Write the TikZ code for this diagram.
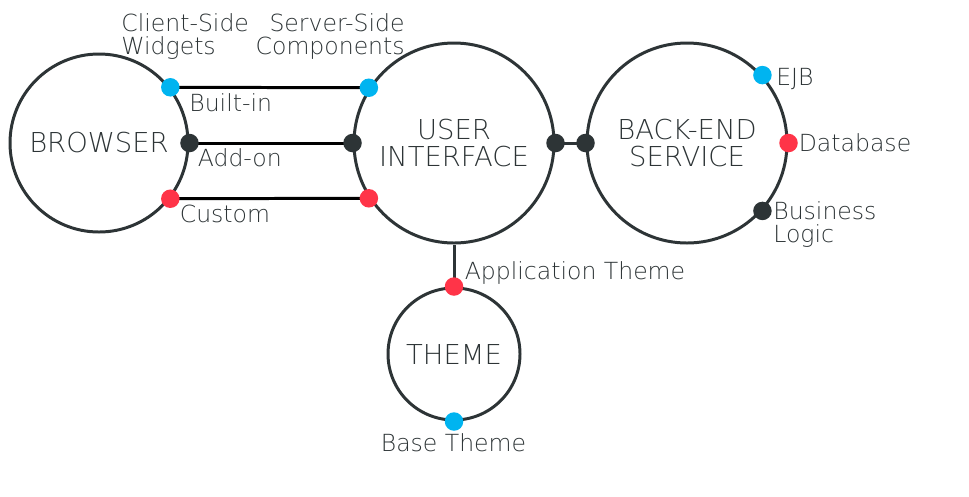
\documentclass[tikz,border=0pt]{standalone}
\usepackage{fontspec}
\setmainfont{DejaVuSans-ExtraLight.ttf}
\definecolor{darkGray}{RGB}{45, 52, 54}
\definecolor{dotBlue}{RGB}{0, 180, 240}
\definecolor{dotRed}{RGB}{255, 52, 72}
\usepackage{tikz}

\tikzset{
  part/.style={draw=darkGray,line width=1.7pt,circle,inner sep=0pt,align=center,text=darkGray,font=\fontsize{15.6}{15.4}\selectfont},
  port/.style={circle,fill=#1,inner sep=0pt,minimum size=0.37cm},
  tag/.style={inner sep=0pt,text=darkGray,font=\fontsize{13.4}{13.1}\selectfont},
  wire/.style={line width=1.7pt,draw=#1}
}

\begin{document}
\begin{tikzpicture}
      \useasboundingbox (0,0) rectangle (19.38,-9.92);
      % Main blocks
      \node[part,minimum size=3.56cm] (browser) at (1.98,-2.86) {BROWSER};
      \node[part,minimum size=4cm] (ui) at (9.08,-2.86) {USER\\INTERFACE};
      \node[part,minimum size=4cm] (backend) at (13.74,-2.86) {BACK-END\\SERVICE};
      \node[part,minimum size=2.64cm] (theme) at (9.08,-7.08) {THEME};

      % Connection points
      \coordinate (browserBuiltin) at (browser.38);
      \coordinate (browserAddon) at (browser.0);
      \coordinate (browserCustom) at (browser.-38);
      \coordinate (uiBuiltin) at (ui.147);
      \coordinate (uiAddon) at (ui.180);
      \coordinate (uiCustom) at (ui.-147);
      \coordinate (uiService) at (ui.0);
      \coordinate (uiTheme) at (ui.-90);
      \coordinate (backendUi) at (backend.180);
      \coordinate (backendEjb) at (backend.42);
      \coordinate (backendDb) at (backend.0);
      \coordinate (backendLogic) at (backend.-42);
      \coordinate (themeApp) at (theme.90);
      \coordinate (themeBase) at (theme.-90);

      % Wires
      \draw[wire=black] (browserBuiltin) -- (uiBuiltin);
      \draw[wire=black] (browserAddon) -- (uiAddon);
      \draw[wire=black] (browserCustom) -- (uiCustom);
      \draw[wire=darkGray] (uiService) -- (backendUi);
      \draw[wire=darkGray] (uiTheme) -- (themeApp);

      % Dots
      \node[port=dotBlue] at (browserBuiltin) {};
      \node[port=darkGray] at (browserAddon) {};
      \node[port=dotRed] at (browserCustom) {};
      \node[port=dotBlue] at (uiBuiltin) {};
      \node[port=darkGray] at (uiAddon) {};
      \node[port=dotRed] at (uiCustom) {};
      \node[port=darkGray] at (uiService) {};
      \node[port=darkGray] at (backendUi) {};
      \node[port=dotBlue] at (backendEjb) {};
      \node[port=dotRed] at (backendDb) {};
      \node[port=darkGray] at (backendLogic) {};
      \node[port=dotRed] at (themeApp) {};
      \node[port=dotBlue] at (themeBase) {};

      % Labels
      \node[tag,anchor=north west,align=left] (clientLbl) at (2.42,-0.26) {Client-Side\\Widgets};
      \node[tag,anchor=north east,align=right] (serverLbl) at (8.10,-0.26) {Server-Side\\Components};
      \node[tag,anchor=base west] (builtinLbl) at (3.78,-2.22) {Built-in};
      \node[tag,anchor=base west] (addonLbl) at (3.95,-3.33) {Add-on};
      \node[tag,anchor=base west] (customLbl) at (3.59,-4.45) {Custom};
      \node[tag,anchor=base west] (ejbLbl) at (15.52,-1.70) {EJB};
      \node[tag,anchor=base west] (dbLbl) at (15.97,-3.02) {Database};
      \node[tag,anchor=north west,align=left] (logicLbl) at (15.46,-4.03) {Business\\Logic};
      \node[tag,anchor=base west] (appLbl) at (9.29,-5.58) {Application Theme};
      \node[tag,anchor=base] (baseLbl) at (9.07,-9.02) {Base Theme};
\end{tikzpicture}
\end{document}
